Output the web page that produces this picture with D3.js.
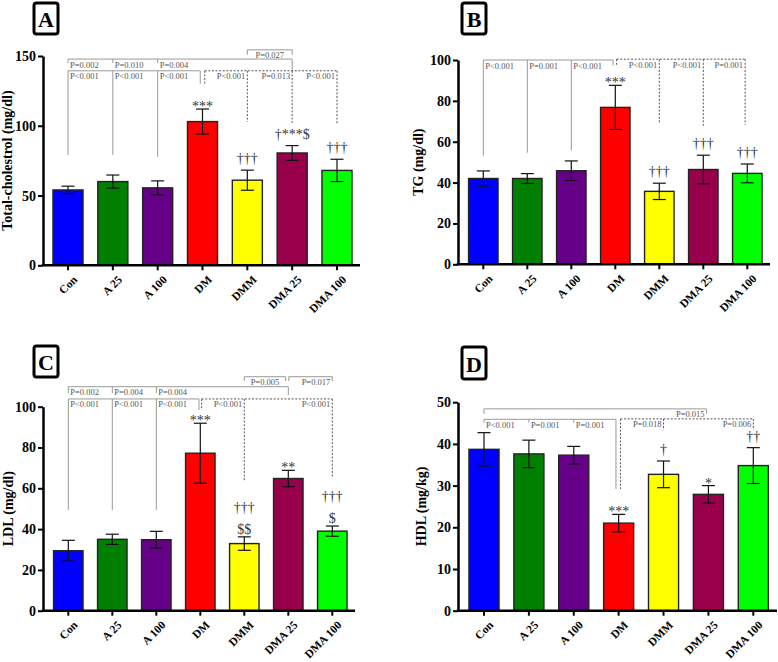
<!DOCTYPE html>
<html>
<head>
<meta charset="utf-8">
<script src="https://cdn.jsdelivr.net/npm/d3@7"></script>
<style>
  body { margin: 0; background: #fff; }
</style>
</head>
<body>
<div id="chart"></div>
<script>
const groups = ["Con", "A 25", "A 100", "DM", "DMM", "DMA 25", "DMA 100"];

const cholMean = [54, 60, 55.5, 103, 61, 80.5, 68];
const cholErr = [2.7, 4.7, 5, 9, 7.2, 5.3, 8];
const cholMarks = ["", "", "", "***", "†††", "†***$", "†††"];
const cholTicks = [0, 50, 100, 150];

const tgMean = [42, 42, 45.8, 76.8, 35.7, 46.4, 44.5];
const tgErr = [3.7, 2.4, 4.8, 10.8, 4, 7, 4.6];
const tgMarks = ["", "", "", "***", "†††", "†††", "†††"];
const tgTicks = [0, 20, 40, 60, 80, 100];

const ldlMean = [29.4, 35, 34.8, 77.2, 32.9, 64.8, 39];
const ldlErr = [5.1, 2.5, 4.1, 14.7, 3.3, 4, 2.5];
const ldlMarks = ["", "", "", "***", "†††\n$$", "**", "†††\n$"];
const ldlTicks = [0, 20, 40, 60, 80, 100];

const hdlMean = [38.7, 37.6, 37.3, 21, 32.7, 27.9, 34.8];
const hdlErr = [4, 3.3, 2.1, 2.1, 3.2, 2.1, 4.3];
const hdlMarks = ["", "", "", "***", "†", "*", "††"];
const hdlTicks = [0, 10, 20, 30, 40, 50];

// comparison brackets: horizontal run (group index, may be fractional) at a y value,
// drops down to a y value, and P labels hanging under the run
const cholBrackets = [
  { x1: 0, x2: 5, y: 147.8, drops: [[0, 145], [1, 145], [2, 145], [5, 139.4]],
    labels: [[0, "P=0.002", "start"], [1, "P=0.010", "start"], [2, "P=0.004", "start"]] },
  { x1: 4, x2: 5, y: 154.4, drops: [[4, 150.8], [5, 150.8]],
    labels: [[4.5, "P=0.027", "middle"]] },
  { x1: 0, x2: 2.95, y: 139.4, drops: [[0, 79], [1, 79], [2, 77.7], [2.95, 130]],
    labels: [[0, "P<0.001", "start"], [1, "P<0.001", "start"], [2, "P<0.001", "start"]] },
  { x1: 3.05, x2: 6, y: 139.4, dash: true, drops: [[3.05, 130], [4, 102.8], [5, 102], [6, 101.4]],
    labels: [[4, "P<0.001", "end"], [5, "P=0.013", "end"], [6, "P<0.001", "end"]] },
];

const tgBrackets = [
  { x1: 0, x2: 2.95, y: 100, drops: [[0, 53.2], [1, 54.6], [2, 55.7], [2.95, 97.4]],
    labels: [[0, "P<0.001", "start"], [1, "P=0.001", "start"], [2, "P<0.001", "start"]] },
  { x1: 3.03, x2: 5.95, y: 100.4, dash: true, drops: [[3.03, 97.4], [4, 69.4], [5, 67.8], [5.95, 68.3]],
    labels: [[4, "P<0.001", "end"], [5, "P<0.001", "end"], [5.95, "P=0.001", "end"]] },
];

const ldlBrackets = [
  { x1: 4, x2: 4.94, y: 114.7, drops: [[4, 112.6], [4.94, 112.6]],
    labels: [[4.47, "P=0.005", "middle"]] },
  { x1: 5.01, x2: 6, y: 114.7, drops: [[5.01, 112.6], [6, 112.6]],
    labels: [[6, "P=0.017", "end"]] },
  { x1: 0, x2: 5, y: 109.8, drops: [[0, 106.7], [1, 106.7], [2, 106.7], [5, 105.7]],
    labels: [[0, "P=0.002", "start"], [1, "P=0.004", "start"], [2, "P=0.004", "start"]] },
  { x1: 0, x2: 2.97, y: 103.8, drops: [[0, 49.4], [1, 49.4], [2, 49.4], [2.97, 98.4]],
    labels: [[0, "P<0.001", "start"], [1, "P<0.001", "start"], [2, "P<0.001", "start"]] },
  { x1: 3.03, x2: 6, y: 103.8, dash: true, drops: [[3.03, 98.4], [4, 63.2], [6, 65]],
    labels: [[4, "P<0.001", "end"], [6, "P<0.001", "end"]] },
];

const hdlBrackets = [
  { x1: 0, x2: 4.96, y: 48.4, drops: [[0, 47.2], [4.96, 47.2]],
    labels: [[4.96, "P=0.015", "end"]] },
  { x1: 0, x2: 2.94, y: 45.9, drops: [[0, 45.1], [1, 45.1], [2, 45.1], [2.94, 29.2]],
    labels: [[0, "P<0.001", "start"], [1, "P=0.001", "start"], [2, "P=0.001", "start"]] },
  { x1: 3.04, x2: 6, y: 46, dash: true, drops: [[3.04, 29.2], [4, 43.3], [6, 43.3]],
    labels: [[4, "P=0.018", "end"], [6, "P=0.006", "end"]] },
];

const barColors = ["#0000ff", "#008000", "#660088", "#ff0000", "#ffff00", "#99004c", "#00ff00"];
const serif = "'Liberation Serif', 'Times New Roman', serif";

const svg = d3.select("#chart")
  .append("svg")
  .attr("width", 778)
  .attr("height", 662)
  .style("font-family", serif);

function drawPanel(p) {
  const g = svg.append("g");
  const step = (p.lastCenter - p.firstCenter) / (groups.length - 1);

  const x = d3.scaleBand()
    .domain(groups)
    .range([p.firstCenter - step / 2, p.lastCenter + step / 2])
    .paddingInner(0.33)
    .paddingOuter(0.165);

  const y = d3.scaleLinear()
    .domain([0, d3.max(p.ticks)])
    .range([p.yBase, p.yTop]);

  const cx = i => x(groups[0]) + x.bandwidth() / 2 + i * x.step();

  // brackets first so bars sit on top of their lower ends
  p.brackets.forEach(b => {
    const stroke = b.dash ? "#555" : "#999";
    const dash = b.dash ? "2,1.6" : null;
    g.append("line")
      .attr("x1", cx(b.x1)).attr("x2", cx(b.x2))
      .attr("y1", y(b.y)).attr("y2", y(b.y))
      .attr("stroke", stroke).attr("stroke-width", 1)
      .attr("stroke-dasharray", dash);
    b.drops.forEach(([i, yEnd]) => {
      g.append("line")
        .attr("x1", cx(i)).attr("x2", cx(i))
        .attr("y1", y(b.y)).attr("y2", y(yEnd))
        .attr("stroke", stroke).attr("stroke-width", 1)
        .attr("stroke-dasharray", dash);
    });
    b.labels.forEach(([i, text, anchor]) => {
      const dx = anchor === "start" ? 2 : anchor === "end" ? -2 : 0;
      g.append("text")
        .attr("x", cx(i) + dx)
        .attr("y", y(b.y) + 8.5)
        .attr("text-anchor", anchor)
        .attr("font-size", "8.5px")
        .attr("fill", "#555")
        .text(text);
    });
  });

  // bars
  g.selectAll("rect.bar")
    .data(p.means)
    .join("rect")
    .attr("class", "bar")
    .attr("x", (d, i) => x(groups[i]))
    .attr("y", d => y(d))
    .attr("width", x.bandwidth())
    .attr("height", d => y(0) - y(d))
    .attr("fill", (d, i) => barColors[i])
    .attr("stroke", "#222")
    .attr("stroke-width", 1.4);

  // error bars
  p.means.forEach((m, i) => {
    const c = cx(i);
    const lo = y(m - p.errs[i]);
    const hi = y(m + p.errs[i]);
    g.append("line").attr("x1", c).attr("x2", c).attr("y1", lo).attr("y2", hi)
      .attr("stroke", "#111").attr("stroke-width", 1.2);
    [lo, hi].forEach(v => {
      g.append("line").attr("x1", c - 6.5).attr("x2", c + 6.5).attr("y1", v).attr("y2", v)
        .attr("stroke", "#111").attr("stroke-width", 1.2);
    });

    const lines = p.marks[i] ? p.marks[i].split("\n") : [];
    let base = hi;
    for (let k = lines.length - 1; k >= 0; k--) {
      const t = lines[k];
      const off = t.includes("†") ? -7 : t.includes("$") ? -3 : 2;
      g.append("text")
        .attr("x", c)
        .attr("y", base + off)
        .attr("text-anchor", "middle")
        .attr("font-size", "14px")
        .attr("fill", "#333")
        .text(t);
      base = base + off - 15;
    }
  });

  // y axis
  const yAxis = g.append("g")
    .attr("transform", `translate(${p.axisX},0)`)
    .call(d3.axisLeft(y).tickValues(p.ticks).tickSize(5).tickSizeOuter(0).tickPadding(2));
  yAxis.select(".domain").attr("stroke", "#000").attr("stroke-width", 2.5);
  yAxis.selectAll(".tick line").attr("stroke", "#000").attr("stroke-width", 2);
  yAxis.selectAll(".tick text")
    .attr("font-family", serif)
    .attr("font-size", "14px")
    .attr("font-weight", "bold")
    .attr("fill", "#000");

  // x axis
  const xAxis = g.append("g")
    .attr("transform", `translate(0,${p.yBase})`)
    .call(d3.axisBottom(x).tickSize(5).tickSizeOuter(0));
  xAxis.select(".domain").remove();
  xAxis.selectAll(".tick line").attr("stroke", "#000").attr("stroke-width", 2);
  xAxis.selectAll(".tick text")
    .attr("font-family", serif)
    .attr("font-size", "11.5px")
    .attr("font-weight", "bold")
    .attr("fill", "#000")
    .attr("text-anchor", "end")
    .attr("dy", null)
    .attr("transform", "translate(3,8) rotate(-45)")
    .attr("y", 6)
    .attr("dominant-baseline", "central");
  g.append("line")
    .attr("x1", p.axisX - 1.2).attr("x2", p.axisEnd)
    .attr("y1", p.yBase).attr("y2", p.yBase)
    .attr("stroke", "#000").attr("stroke-width", 2.5);

  // y title
  g.append("text")
    .attr("transform", `translate(${p.titleX},${(p.yBase + p.yTop) / 2}) rotate(-90)`)
    .attr("text-anchor", "middle")
    .attr("dominant-baseline", "central")
    .attr("font-size", "14px")
    .attr("font-weight", "bold")
    .text(p.yLabel);

  // panel letter
  g.append("rect")
    .attr("x", p.box[0]).attr("y", p.box[1])
    .attr("width", p.box[2]).attr("height", p.box[3])
    .attr("rx", 2.5)
    .attr("fill", "#fff").attr("stroke", "#000").attr("stroke-width", 3);
  g.append("text")
    .attr("x", p.box[0] + p.box[2] / 2)
    .attr("y", p.box[1] + p.box[3] / 2 + 1)
    .attr("text-anchor", "middle")
    .attr("dominant-baseline", "central")
    .attr("font-size", "22px")
    .attr("font-weight", "bold")
    .text(p.letter);
}

drawPanel({
  letter: "A", yLabel: "Total-cholestrol (mg/dl)",
  means: cholMean, errs: cholErr, marks: cholMarks, ticks: cholTicks, brackets: cholBrackets,
  axisX: 43, axisEnd: 360, yTop: 56, yBase: 265.3, firstCenter: 68, lastCenter: 337,
  titleX: 7, box: [34, 3, 24, 31],
});

drawPanel({
  letter: "B", yLabel: "TG (mg/dl)",
  means: tgMean, errs: tgErr, marks: tgMarks, ticks: tgTicks, brackets: tgBrackets,
  axisX: 458, axisEnd: 770, yTop: 60, yBase: 264.3, firstCenter: 483.3, lastCenter: 747.3,
  titleX: 418, box: [462, 3, 24, 31],
});

drawPanel({
  letter: "C", yLabel: "LDL (mg/dl)",
  means: ldlMean, errs: ldlErr, marks: ldlMarks, ticks: ldlTicks, brackets: ldlBrackets,
  axisX: 43, axisEnd: 355, yTop: 406.7, yBase: 610.7, firstCenter: 68.3, lastCenter: 332.3,
  titleX: 8, box: [34, 346, 24, 31],
});

drawPanel({
  letter: "D", yLabel: "HDL (mg/kg)",
  means: hdlMean, errs: hdlErr, marks: hdlMarks, ticks: hdlTicks, brackets: hdlBrackets,
  axisX: 458, axisEnd: 777, yTop: 402.2, yBase: 610.7, firstCenter: 484, lastCenter: 753.3,
  titleX: 421, box: [462, 347, 24, 32],
});
</script>
</body>
</html>
